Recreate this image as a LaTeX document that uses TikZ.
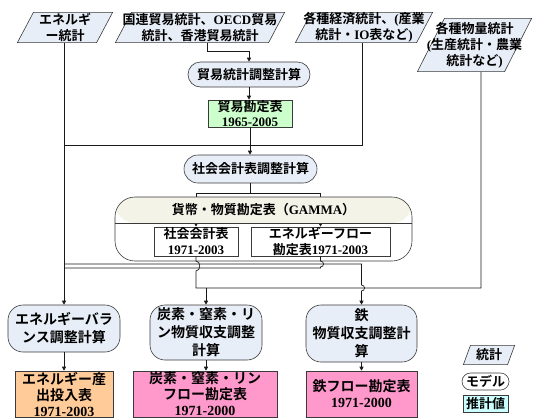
\documentclass[tikz,border=0pt]{standalone}
\usepackage{fontspec}
\setmainfont{Noto Sans CJK JP}[BoldFont={Noto Sans CJK JP Bold}]
\newfontfamily\lat{Liberation Serif}[BoldFont={Liberation Serif Bold}]
\usetikzlibrary{arrows.meta}
\definecolor{modelfill}{HTML}{E8EEF7}
\definecolor{statfill}{HTML}{E8EEF7}
\definecolor{greenfill}{HTML}{CCFFCC}
\definecolor{orangefill}{HTML}{FFCC99}
\definecolor{pinkfill}{HTML}{FF99CC}
\definecolor{cyanfill}{HTML}{CCFFFF}
\definecolor{headfill}{HTML}{F3F3E8}
\definecolor{edge}{HTML}{3A3A3A}
\newcommand\statpoly[1]{%
  \draw[draw=edge, fill=statfill, line width=0.6pt]
  ([xshift=#1pt+0.4pt, yshift=-0.4pt]path picture bounding box.north west) --
  ([xshift=-0.4pt, yshift=-0.4pt]path picture bounding box.north east) --
  ([xshift=-#1pt-0.4pt, yshift=0.4pt]path picture bounding box.south east) --
  ([xshift=0.4pt, yshift=0.4pt]path picture bounding box.south west) -- cycle;}
\tikzset{
  base/.style={inner sep=0pt, align=center, font=\bfseries\fontsize{13}{16}\selectfont},
  stat/.style={base, path picture={\statpoly{#1}}},
  model/.style={base, draw=edge, line width=0.6pt, fill=modelfill},
  est/.style={base, draw=edge, line width=0.6pt},
  big/.style={font=\bfseries\fontsize{14}{18}\selectfont},
  tight/.style={font=\bfseries\fontsize{13}{15}\selectfont},
  line/.style={draw=black!90, line width=0.7pt},
  arr/.style={line, -{Triangle[length=4pt,width=4pt]}},
}
\begin{document}
\begin{tikzpicture}[x=1pt, y=-1pt]
\useasboundingbox (0,0) rectangle (540,418);
% statistics
\node[stat=16, minimum width=96pt, minimum height=31pt] (es) at (65,27.5) {エネルギ\\ー統計};
\node[stat=16, minimum width=170pt, minimum height=31pt] (ts) at (200,27.5) {国連貿易統計、{\lat OECD}貿易\\統計、香港貿易統計};
\node[stat=16, minimum width=138pt, minimum height=31pt] (ec) at (364,27.5) {各種経済統計、{\lat (}産業\\統計・{\lat IO}表など{\lat )}};
\node[stat=27, minimum width=115pt, minimum height=54pt] (ms) at (474.5,45) {各種物量統計\\{\lat (}生産統計・農業\\統計など{\lat )}};
% models / tables
\node[model, rounded corners=12.5pt, minimum width=122pt, minimum height=25pt] (tadj) at (249,74.5) {貿易統計調整計算};
\node[est, tight, fill=greenfill, minimum width=84pt, minimum height=27pt] (ttab) at (250,113.5) {貿易勘定表\\{\lat 1965-2005}};
\node[model, rounded corners=14pt, minimum width=133pt, minimum height=28pt] (sadj) at (250.5,169) {社会会計表調整計算};
\node[est, minimum width=84pt, minimum height=29pt] (sat) at (196,241.5) {社会会計表\\{\lat 1971-2003}};
\node[est, minimum width=139pt, minimum height=29pt] (eft) at (320.5,241.5) {エネルギーフロー\\勘定表{\lat 1971-2003}};
\node[model, big, rounded corners=15pt, minimum width=112pt, minimum height=47pt] (ebal) at (64,328.5) {エネルギーバラ\\ンス調整計算};
\node[model, big, rounded corners=15pt, minimum width=112pt, minimum height=55pt] (cnp) at (206,332.5) {炭素・窒素・リ\\ン物質収支調整\\計算};
\node[model, big, rounded corners=15pt, minimum width=111pt, minimum height=57pt] (fe) at (361.5,333.5) {鉄\\物質収支調整計\\算};
\node[est, big, fill=orangefill, minimum width=98pt, minimum height=46pt, font=\bfseries\fontsize{14}{16}\selectfont] (eio) at (64,394) {エネルギー産\\出投入表\\{\lat 1971-2003}};
\node[est, big, fill=pinkfill, minimum width=144pt, minimum height=46pt, font=\bfseries\fontsize{14}{16}\selectfont] (cnpt) at (205,394) {炭素・窒素・リン\\フロー勘定表\\{\lat 1971-2000}};
\node[est, big, fill=pinkfill, minimum width=111pt, minimum height=46pt, font=\bfseries\fontsize{14}{16}\selectfont] (fet) at (361.5,394) {鉄フロー勘定表\\{\lat 1971-2000}};
% legend
\node[stat=7, minimum width=52pt, minimum height=20pt] (lg1) at (489,355) {統計};
\node[model, fill=white, rounded corners=8.5pt, minimum width=47pt, minimum height=17pt] (lg2) at (485.5,381.5) {モデル};
\node[est, fill=cyanfill, minimum width=45pt, minimum height=17pt] (lg3) at (485.5,403.5) {推計値};
% level helpers
\coordinate (lv1) at (0,145);
\coordinate (lvU) at (0,264);
\coordinate (lvL) at (0,268);
\coordinate (lvH) at (0,288);
% connectors
\draw[arr] (es.south -| ebal.north) -- (ebal.north);
\draw[line] ([xshift=-2pt]ec.south) |- (ebal.north |- lv1);
\draw[arr] ([xshift=7pt]ts.south) |- ([yshift=10pt]tadj.north) -- (tadj.north);
\draw[arr] (tadj.south) -- (tadj.south |- ttab.north);
\draw[arr] (ttab.south) -- (ttab.south |- sadj.north);
\draw[arr] (sadj.south) -- ++(0,10) -| (sat.north);
\draw[arr] (sadj.south) ++(0,10) -| (eft.north);
% GAMMA container
\node[draw=edge, line width=0.6pt, rounded corners=20pt, minimum width=297pt, minimum height=64pt,
  path picture={\fill[headfill] (path picture bounding box.north west) rectangle ([yshift=-26pt]path picture bounding box.north east);
  \draw[edge, line width=0.6pt] ([yshift=-26pt]path picture bounding box.north west) -- ([yshift=-26pt]path picture bounding box.north east);}] (gamma) at (263.5,229) {};
\node[base] (gh) at (263.5,210) {貨幣・物質勘定表（{\lat GAMMA}）};
% lower connectors
\draw[line] (eft.south) -- ([yshift=3pt]eft.south |- lvU) .. controls +(4,0) and +(4,0) .. ([yshift=-3pt]eft.south |- lvU) |- (ebal.north |- lvL);
\draw[arr] (ebal.north |- lvU) -| ([yshift=3pt]fe.north |- lvH) .. controls +(4,0) and +(4,0) .. ([yshift=-3pt]fe.north |- lvH) -- (fe.north);
\draw[line] (sat.south) -- ([yshift=3pt]sat.south |- lvU) .. controls +(5,0) and +(5,0) .. ([yshift=-3pt]sat.south |- lvL) |- ([xshift=6.5pt]ms.south |- lvH) -- ([xshift=6.5pt]ms.south);
\draw[arr] (cnp.north |- lvH) -- (cnp.north);
\draw[arr] (ebal.south) -- (eio.north);
\draw[arr] (cnp.south) -- (cnp.south |- cnpt.north);
\draw[arr] (fe.south) -- (fet.north);
\end{tikzpicture}
\end{document}
